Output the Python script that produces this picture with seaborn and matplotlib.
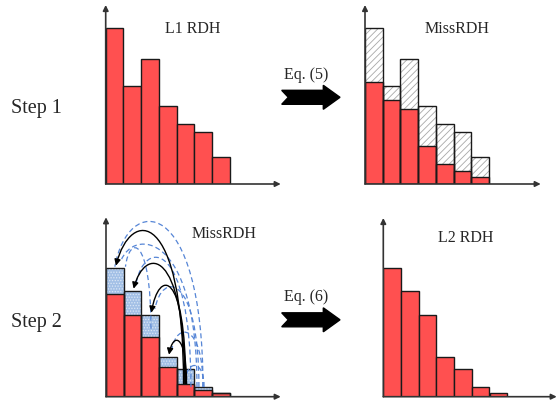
""" Reuse distance histograms: L1 -> MissRDH -> L2 """

import numpy as np
import matplotlib
matplotlib.use('Agg')
import matplotlib.pyplot as plt
import seaborn as sns
from matplotlib.patches import Polygon, FancyArrowPatch, PathPatch
from matplotlib.path import Path

# bins of the reuse distance histograms
bins = [1, 2, 3, 4, 5, 6, 7]
# Step 1: L1 histogram and what is left after Eq. (5)
l1_rdh = [15.6, 9.8, 12.5, 7.8, 6.0, 5.2, 2.7]
miss_rdh = [10.2, 8.4, 7.5, 3.8, 2.0, 1.3, 0.7]
# Step 2: red part kept, blue part moved in from larger distances
l2_hits = [10.3, 8.2, 6.0, 3.0, 1.3, 0.7, 0.4]
l2_rdh = [12.9, 10.6, 8.2, 4.0, 2.8, 1.0, 0.4]

RED = '#ff5050'
BLUE = '#a3c0e6'
EDGE = '#1a1a1a'
W, H = 557, 406
BAR_PX = 17.7   # pixel width of one bin
Y_PX = 10.0     # pixels per unit height

sns.set_style('white')
plt.rcParams['font.family'] = ['Liberation Serif', 'DejaVu Serif']
plt.rcParams['hatch.linewidth'] = 0.6

fig = plt.figure(figsize=(W / 100, H / 100), dpi=100)


def make_panel(x0, base, x1, top):
    """Axes placed by pixel box: y axis at x0, baseline at base"""
    ax = fig.add_axes([x0 / W, 1 - base / H, (x1 - x0) / W, (base - top) / H])
    return ax


def finish_panel(ax):
    bbox = ax.get_position()
    wpx, hpx = bbox.width * W, bbox.height * H
    ax.set_xlim(-0.5, -0.5 + wpx / BAR_PX)
    ax.set_ylim(0, hpx / Y_PX)
    ax.axis('off')
    arrow = dict(arrowstyle='-|>', color='#333333', lw=1.2, mutation_scale=8,
                 shrinkA=0, shrinkB=0)
    ax.annotate('', xy=(1, 0), xytext=(0, 0), xycoords='axes fraction', arrowprops=arrow)
    ax.annotate('', xy=(0, 1), xytext=(0, 0), xycoords='axes fraction', arrowprops=arrow)


def bars(ax, vals, **kw):
    sns.barplot(x=bins, y=vals, width=1, saturation=1, errorbar=None, ax=ax, **kw)


def arc(x_start, y_start, x_end, y_end, peak, lean=0.3):
    """Cubic curve rising from start and landing on end from above"""
    c = (peak - (y_start + y_end) / 8) / 0.75
    verts = [(x_start, y_start), (x_start, c),
             (x_end + lean * (x_start - x_end), c), (x_end, y_end)]
    return Path(verts, [Path.MOVETO, Path.CURVE4, Path.CURVE4, Path.CURVE4])


# Panel 1: L1 RDH
ax1 = make_panel(105.7, 185, 280.7, 6)
bars(ax1, l1_rdh, color=RED, edgecolor=EDGE, linewidth=1)
finish_panel(ax1)

# Panel 2: MissRDH (hatched = removed by Eq. 5)
ax2 = make_panel(365, 185, 540.7, 6)
bars(ax2, l1_rdh, color='white', edgecolor='#a8a8a8', linewidth=0, hatch='/////')
bars(ax2, miss_rdh, color=RED, edgecolor=EDGE, linewidth=1)
bars(ax2, l1_rdh, fill=False, color=EDGE, linewidth=1)
finish_panel(ax2)

# Panel 3: misses moved to shorter distances
ax3 = make_panel(106, 397.7, 280.7, 218.3)
bars(ax3, l2_rdh, color=BLUE, edgecolor='#dbe7f6', linewidth=0, hatch='......')
bars(ax3, l2_hits, color=RED, edgecolor=EDGE, linewidth=1)
bars(ax3, l2_rdh, fill=False, color=EDGE, linewidth=1)

dashed = [(4.98, 0.0, 17.0), (4.64, 0.35, 14.4), (2.04, 0.6, 14.6),
          (4.30, 1.2, 13.4), (4.75, 2.27, 10.6), (4.98, 3.23, 6.3), (5.04, 4.02, 3.1)]
dashed_y = [(0.97, 13.0), (0.97, 13.6), (6.8, 13.0), (0.97, 11.3), (0.97, 8.8),
            (0.97, 4.8), (0.97, 2.0)]
for (xs, xe, pk), (ys, ye) in zip(dashed, dashed_y):
    ax3.add_patch(PathPatch(arc(xs, ys, xe, ye, pk, lean=0.15), facecolor='none',
                            edgecolor='#5585d6', lw=0.9, linestyle=(0, (4, 2.5))))

black_start = [3.88, 3.95, 4.0, 4.05]
black_peak = [16.0, 12.8, 10.8, 5.5]
for k, (xs, pk) in enumerate(zip(black_start, black_peak)):
    p = arc(xs, l2_hits[4], k + 0.06, l2_rdh[k] + 0.2, pk, lean=0.22)
    ax3.add_patch(FancyArrowPatch(path=p, arrowstyle='-|>', mutation_scale=9,
                                  color='black', lw=1.0))
finish_panel(ax3)

# Panel 4: L2 RDH
ax4 = make_panel(383.3, 397.7, 556.7, 219)
bars(ax4, l2_rdh, color=RED, edgecolor=EDGE, linewidth=1)
finish_panel(ax4)


# Block arrows between the panels
def block_arrow(yc):
    pts = [(281.7, yc - 7), (288.3, yc), (281.7, yc + 7), (323.3, yc + 7),
           (323.3, yc + 12), (340, yc), (323.3, yc - 12), (323.3, yc - 7)]
    pts = [(x / W, 1 - y / H) for x, y in pts]
    fig.add_artist(Polygon(pts, closed=True, transform=fig.transFigure, color='black'))


block_arrow(98.3)
block_arrow(320.8)

# Labels
labels = [('L1 RDH', 193, 29, 11.5), ('MissRDH', 457.5, 29, 11.5),
          ('MissRDH', 224, 234, 11.5), ('L2 RDH', 465.7, 238.3, 11.5),
          ('Eq. (5)', 305.8, 75, 11.5), ('Eq. (6)', 305.8, 296.7, 11.5),
          ('Step 1', 36, 108, 14.5), ('Step 2', 36, 322, 14.5)]
for txt, x, y, size in labels:
    fig.text(x / W, 1 - y / H, txt, ha='center', va='center', fontsize=size)

fig.savefig('out.png', dpi=100)
plt.close()
